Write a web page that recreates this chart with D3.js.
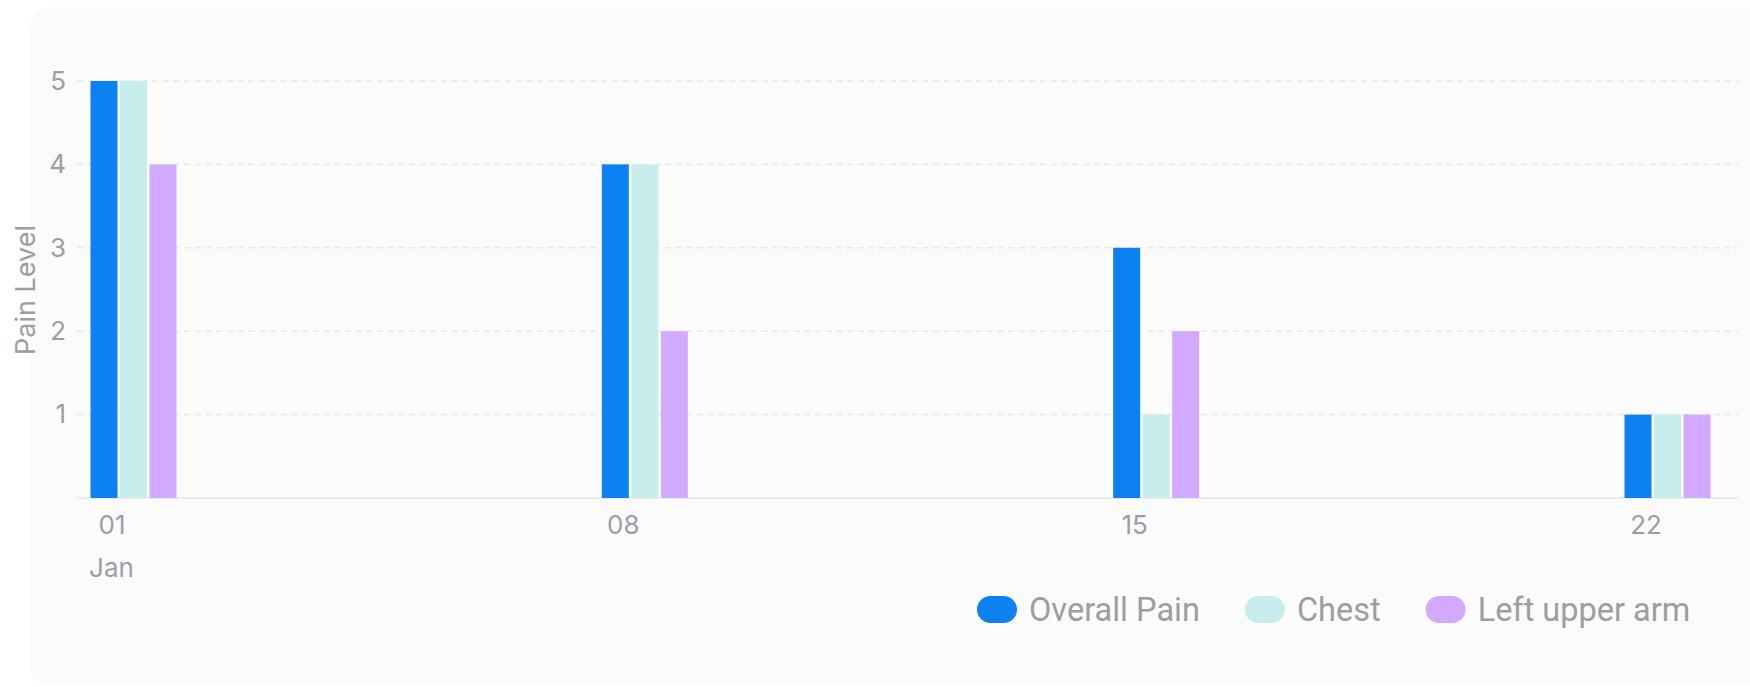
<!DOCTYPE html>
<html>
<head>
<meta charset="utf-8">
<script src="https://cdn.jsdelivr.net/npm/d3@7"></script>
<style>
  body { margin: 0; background: #ffffff; }
  svg { display: block; }
</style>
</head>
<body>
<script>
// data
const dates = ["2023-01-01", "2023-01-08", "2023-01-15", "2023-01-22"];
const seriesNames = ["Overall Pain", "Chest", "Left upper arm"];
const overallPain = [5, 4, 3, 1];
const chest = [5, 4, 1, 1];
const leftUpperArm = [4, 2, 2, 1];
const yTicks = [1, 2, 3, 4, 5];
const colors = ["#0d80f2", "#c7eeec", "#d1aaff"];

const width = 1750, height = 687;
const parse = d3.timeParse("%Y-%m-%d");
const dateObjs = dates.map(parse);
const values = [overallPain, chest, leftUpperArm];

const svg = d3.select("body").append("svg")
  .attr("width", width)
  .attr("height", height);

// card background
svg.append("rect")
  .attr("x", 30).attr("y", 7)
  .attr("width", width).attr("height", 678)
  .attr("rx", 20)
  .attr("fill", "#fbfbfb");

const plotLeft = 77, plotRight = 1738;

let y = d3.scaleLinear().domain([0, 5]).range([498, 81]);
let x = d3.scaleTime().domain([dateObjs[0], dateObjs[3]]).range([133.5, 1667.5]);

const barW = 27, barStep = 29.5, labelShift = 22;

// grid lines
svg.append("g").selectAll("line")
  .data(yTicks)
  .enter().append("line")
  .attr("x1", plotLeft).attr("x2", plotRight)
  .attr("y1", d => y(d)).attr("y2", d => y(d))
  .attr("stroke", "#e7e7e7")
  .attr("stroke-width", 1.5)
  .attr("stroke-dasharray", "6,4.7");

// baseline
svg.append("line")
  .attr("x1", plotLeft).attr("x2", plotRight)
  .attr("y1", y(0)).attr("y2", y(0))
  .attr("stroke", "#e6e6e9")
  .attr("stroke-width", 1.5);

// bars
values.forEach(function(vals, si) {
  svg.append("g").selectAll("rect")
    .data(vals)
    .enter().append("rect")
    .attr("x", (d, i) => x(dateObjs[i]) + (si - 1) * barStep - barW / 2)
    .attr("y", d => y(d))
    .attr("width", barW)
    .attr("height", d => y(0) - y(d))
    .attr("fill", colors[si]);
});

const axisFont = "Inter, 'Noto Sans', sans-serif";
const axisColor = "#9d9da8";

// y axis
let yAxis = svg.append("g")
  .attr("transform", `translate(${plotLeft},0)`)
  .call(d3.axisLeft(y).tickValues(yTicks).tickSize(0).tickPadding(11).tickFormat(d3.format("d")));
yAxis.select(".domain").remove();
yAxis.selectAll("text")
  .attr("fill", axisColor)
  .style("font-family", axisFont)
  .style("font-size", "26px");

// y title
svg.append("text")
  .attr("transform", "translate(35,290) rotate(-90)")
  .attr("text-anchor", "middle")
  .attr("fill", axisColor)
  .style("font-family", axisFont)
  .style("font-size", "27px")
  .text("Pain Level");

// x axis
let xAxis = svg.append("g")
  .attr("transform", `translate(${-labelShift},${y(0)})`)
  .call(d3.axisBottom(x).tickValues(dateObjs).tickSize(0).tickPadding(18).tickFormat(d3.timeFormat("%d")));
xAxis.select(".domain").remove();
xAxis.selectAll("text")
  .attr("fill", axisColor)
  .style("font-family", axisFont)
  .style("font-size", "26px");

// month label under first tick
svg.append("text")
  .attr("x", x(dateObjs[0]) - labelShift)
  .attr("y", 577)
  .attr("text-anchor", "middle")
  .attr("fill", axisColor)
  .style("font-family", axisFont)
  .style("font-size", "26px")
  .text(d3.timeFormat("%b")(dateObjs[0]));

// legend
let lx = 977;
seriesNames.forEach(function(name, i) {
  let item = svg.append("g").attr("transform", `translate(${lx},596)`);
  item.append("rect")
    .attr("width", 40).attr("height", 27)
    .attr("rx", 13.5)
    .attr("fill", colors[i]);
  let t = item.append("text")
    .attr("x", 52).attr("y", 25)
    .attr("fill", "#9e9e9e")
    .style("font-family", "Roboto, sans-serif")
    .style("font-size", "32.5px")
    .text(name);
  let w = t.node().getComputedTextLength();
  lx += 52 + w + 45;
});
</script>
</body>
</html>
